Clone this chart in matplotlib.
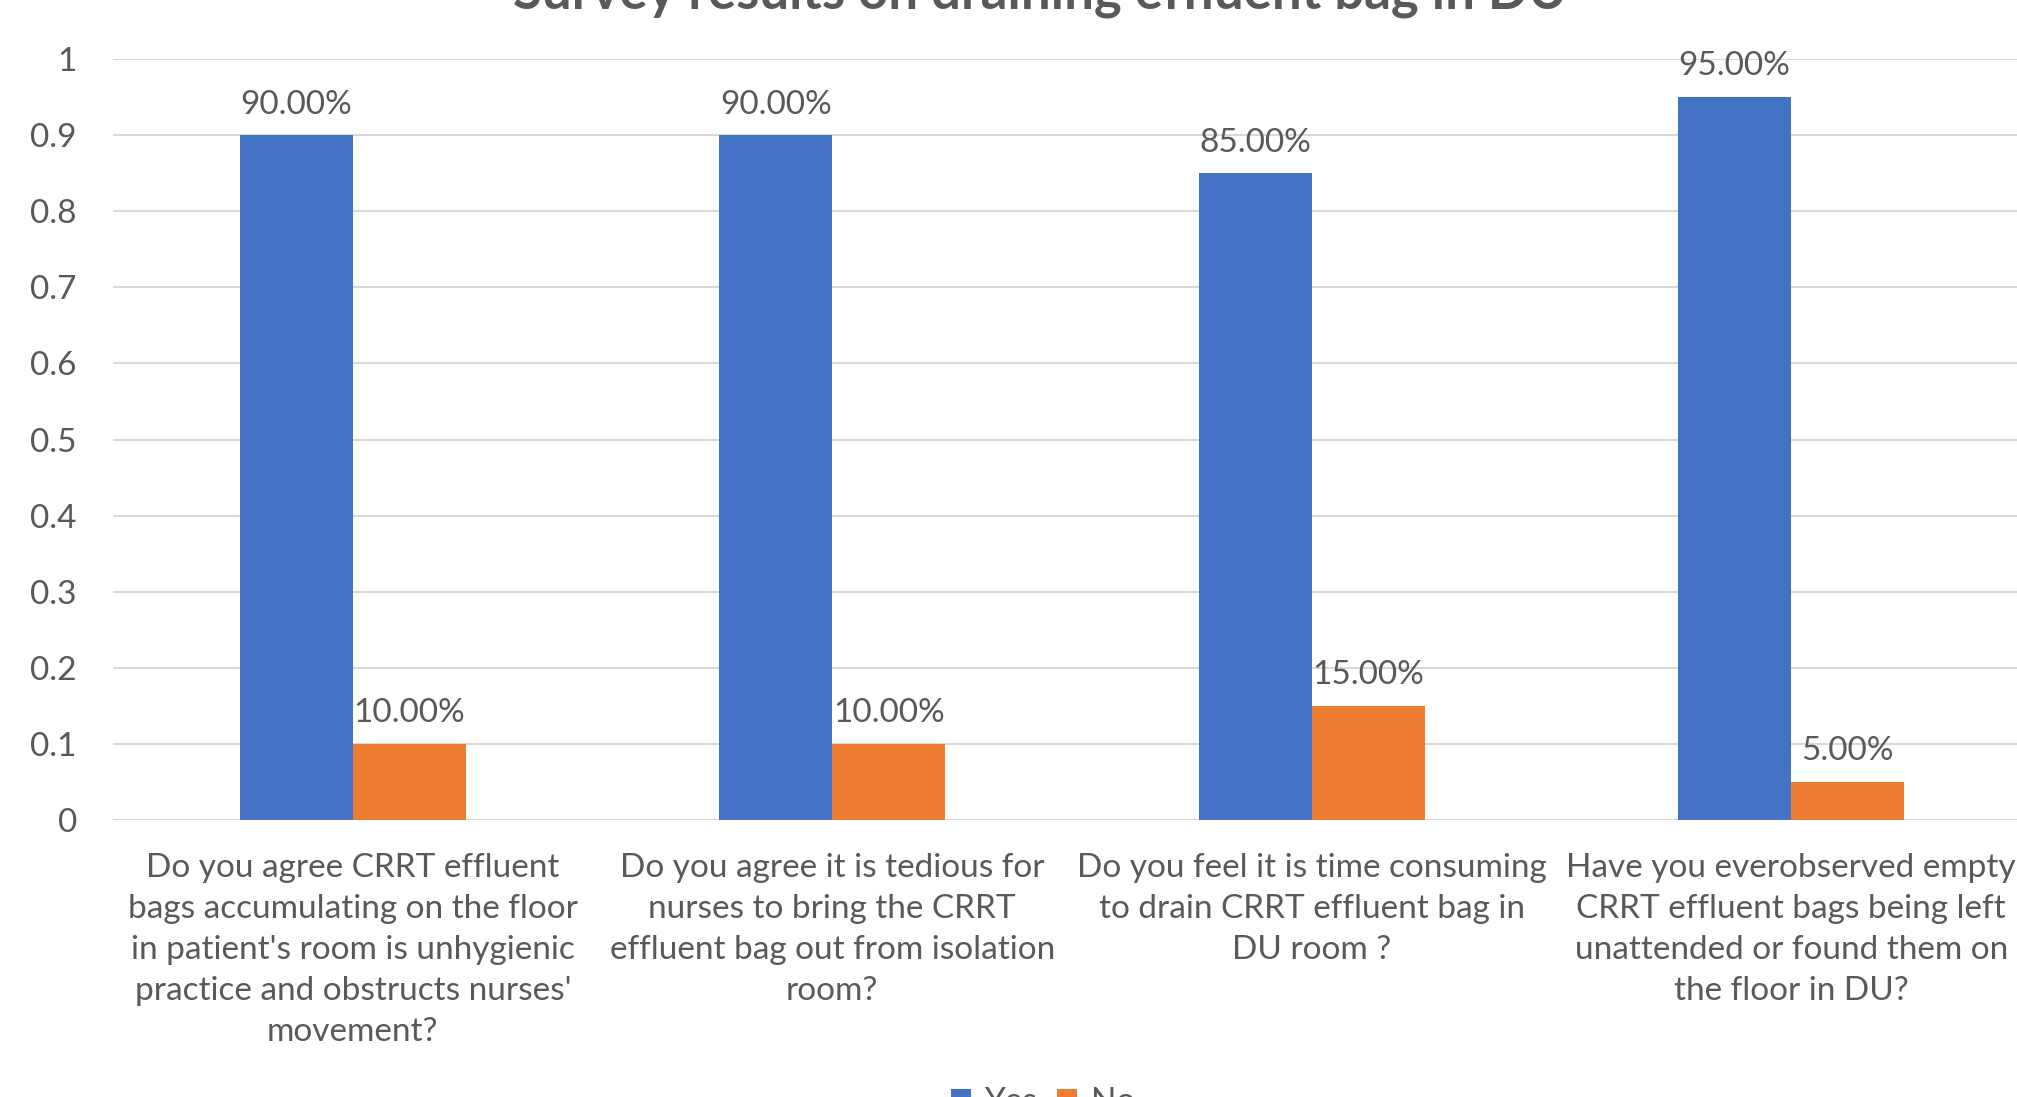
import matplotlib
matplotlib.use("Agg")
import matplotlib.pyplot as plt
import numpy as np

categories = [
    "Do you agree CRRT effluent\nbags accumulating on the floor\nin patient's room is unhygienic\npractice and obstructs nurses'\nmovement?",
    "Do you agree it is tedious for\nnurses to bring the CRRT\neffluent bag out from isolation\nroom?",
    "Do you feel it is time consuming\nto drain CRRT effluent bag in\nDU room ?",
    "Have you everobserved empty\nCRRT effluent bags being left\nunattended or found them on\nthe floor in DU?",
]
yes_vals = [0.90, 0.90, 0.85, 0.95]
no_vals = [0.10, 0.10, 0.15, 0.05]
series_names = ["Yes", "No"]
yticks = [0, 0.1, 0.2, 0.3, 0.4, 0.5, 0.6, 0.7, 0.8, 0.9, 1]
title = "Survey results on draining effluent bag in DU"

BLUE = "#4472C4"
ORANGE = "#ED7D31"
TXT = "#595959"
GRID = "#D9D9D9"
FONT = ["Lato", "DejaVu Sans"]
plt.rcParams["font.family"] = FONT

fig = plt.figure(figsize=(20.17, 10.97), dpi=100)
W, H = 2017, 1097
left, right, top, bottom = 113, 2031, 59, 820
ax = fig.add_axes([left / W, 1 - bottom / H, (right - left) / W, (bottom - top) / H])

x = np.arange(len(categories))
bw = 0.236
b1 = ax.bar(x - bw / 2, yes_vals, bw, color=BLUE, label=series_names[0], zorder=3)
b2 = ax.bar(x + bw / 2, no_vals, bw, color=ORANGE, label=series_names[1], zorder=3)

fs = 24
for bars, vals in ((b1, yes_vals), (b2, no_vals)):
    for r, v in zip(bars, vals):
        ax.annotate(f"{v*100:.2f}%", (r.get_x() + r.get_width() / 2, v),
                    xytext=(0, 22), textcoords="offset points",
                    ha="center", va="center", fontsize=fs, color=TXT)

ax.set_xlim(-0.5, len(categories) - 0.5)
ax.set_ylim(0, 1)
ax.set_yticks(yticks)
ax.set_yticklabels([f"{t:g}" for t in yticks], fontsize=fs, color=TXT)
ax.tick_params(axis="y", length=0, pad=26)
ax.set_xticks(x)
ax.set_xticklabels(categories, fontsize=fs, color=TXT, linespacing=1.46, va="top")
ax.tick_params(axis="x", length=0, pad=24)
ax.grid(axis="y", color=GRID, linewidth=1.5, zorder=0)
for s in ax.spines.values():
    s.set_visible(False)
ax.axhline(0, color=GRID, linewidth=1.5, zorder=1)

fig.text(1040 / W, 1 - 9 / H, title, ha="center", va="baseline",
         fontsize=38, fontweight="bold", color=TXT)

fig.legend(handles=[b1, b2], loc="center", bbox_to_anchor=(1043 / W, 1 - 1102 / H),
           ncol=2, frameon=False, fontsize=fs, handlelength=0.6, handleheight=0.6,
           handletextpad=0.4, columnspacing=0.6, labelcolor=TXT)

fig.savefig("out.png", dpi=100)
